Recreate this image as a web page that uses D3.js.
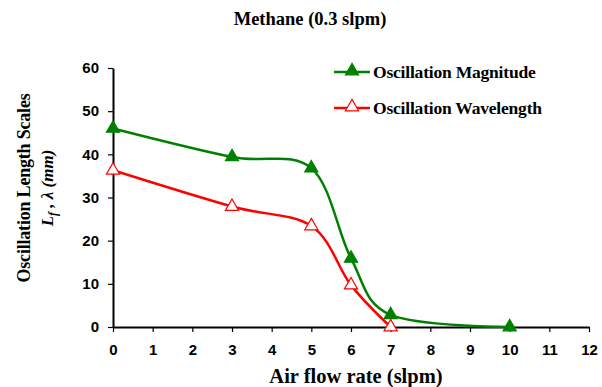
<!DOCTYPE html>
<html>
<head>
<meta charset="utf-8">
<script src="https://cdn.jsdelivr.net/npm/d3@7"></script>
<style>
  body { margin: 0; background: #fff; }
  svg { display: block; }
</style>
</head>
<body>
<svg width="602" height="387"></svg>
<script>
// data
const airFlow = [0, 3, 5, 6, 7, 10];
const magnitude = [46, 39.4, 36.8, 15.9, 2.8, 0];
const airFlowWave = [0, 3, 5, 6, 7];
const wavelength = [36.3, 27.9, 23.4, 9.7, 0];
const xTicks = [0, 1, 2, 3, 4, 5, 6, 7, 8, 9, 10, 11, 12];
const yTicks = [0, 10, 20, 30, 40, 50, 60];

const svg = d3.select('svg');
const margin = { top: 68, right: 13, bottom: 60, left: 113 };
const width = +svg.attr('width');
const height = +svg.attr('height');
const innerWidth = width - margin.left - margin.right;
const innerHeight = height - margin.top - margin.bottom;

const serif = "'Liberation Serif', 'Times New Roman', serif";
const sans = "'Liberation Sans', Arial, sans-serif";

const x = d3.scaleLinear().domain([0, 12]).range([0, innerWidth]);
const y = d3.scaleLinear().domain([0, 60]).range([innerHeight, 0]);

const g = svg.append('g').attr('transform', `translate(${margin.left},${margin.top})`);

/* axes */
const xAxis = g.append('g')
  .attr('transform', `translate(0,${innerHeight})`)
  .call(d3.axisBottom(x).tickValues(xTicks).tickSize(5).tickSizeOuter(0).tickPadding(12));
const yAxis = g.append('g')
  .call(d3.axisLeft(y).tickValues(yTicks).tickSize(5).tickSizeOuter(0).tickPadding(9));

[xAxis, yAxis].forEach(a => {
  a.attr('font-family', sans).attr('font-size', 15).attr('font-weight', 'bold');
  a.select('.domain').attr('stroke', '#000').attr('stroke-width', 2);
  a.selectAll('.tick line').attr('stroke', '#000').attr('stroke-width', 1.2);
  a.selectAll('.tick text').attr('fill', '#000');
});

/* series */
const tri = d3.symbol().type(d3.symbolTriangle).size(75);
const line = d3.line().curve(d3.curveCardinal.tension(0));

const series = [
  { name: 'Oscillation Magnitude', xs: airFlow, ys: magnitude, color: '#008000', filled: true },
  { name: 'Oscillation Wavelength', xs: airFlowWave, ys: wavelength, color: '#ff0000', filled: false }
];

series.forEach(s => {
  const pts = s.xs.map((v, i) => [x(v), y(s.ys[i])]);
  g.append('path')
    .attr('d', line(pts))
    .attr('fill', 'none')
    .attr('stroke', s.color)
    .attr('stroke-width', 2.5);
  g.selectAll(null)
    .data(pts)
    .enter()
    .append('path')
    .attr('d', tri)
    .attr('transform', d => `translate(${d[0]},${d[1]})`)
    .attr('fill', s.filled ? s.color : '#fff')
    .attr('stroke', s.color)
    .attr('stroke-width', 1.2);
});

/* legend */
const legend = svg.append('g').attr('transform', 'translate(334,72)');
series.forEach((s, i) => {
  const row = legend.append('g').attr('transform', `translate(0,${i * 36})`);
  row.append('line')
    .attr('x1', 0).attr('x2', 36)
    .attr('stroke', s.color).attr('stroke-width', 2.5);
  row.append('path')
    .attr('d', tri)
    .attr('transform', 'translate(18,-1)')
    .attr('fill', s.filled ? s.color : '#fff')
    .attr('stroke', s.color)
    .attr('stroke-width', 1.2);
  row.append('text')
    .attr('x', 39).attr('y', 6)
    .attr('font-family', serif)
    .attr('font-weight', 'bold')
    .attr('font-size', 17.5)
    .attr('letter-spacing', -0.2)
    .text(s.name);
});

/* titles */
svg.append('text')
  .attr('x', 310).attr('y', 25)
  .attr('text-anchor', 'middle')
  .attr('font-family', serif)
  .attr('font-weight', 'bold')
  .attr('font-size', 18.5)
  .text('Methane (0.3 slpm)');

svg.append('text')
  .attr('x', 356).attr('y', 383)
  .attr('text-anchor', 'middle')
  .attr('font-family', serif)
  .attr('font-weight', 'bold')
  .attr('font-size', 20.5)
  .text('Air flow rate (slpm)');

const yLab = svg.append('g').attr('transform', 'translate(0,188) rotate(-90)');
yLab.append('text')
  .attr('x', 0).attr('y', 30)
  .attr('text-anchor', 'middle')
  .attr('font-family', serif)
  .attr('font-weight', 'bold')
  .attr('font-size', 18)
  .attr('letter-spacing', -0.2)
  .text('Oscillation Length Scales');
const l2 = yLab.append('text')
  .attr('x', 0).attr('y', 53)
  .attr('text-anchor', 'middle')
  .attr('font-family', serif)
  .attr('font-weight', 'bold')
  .attr('font-style', 'italic')
  .attr('font-size', 17);
l2.append('tspan').text('L');
l2.append('tspan').attr('dy', 4).attr('font-size', 12).text('f');
l2.append('tspan').attr('dy', -4).text(' , λ (mm)');
</script>
</body>
</html>
